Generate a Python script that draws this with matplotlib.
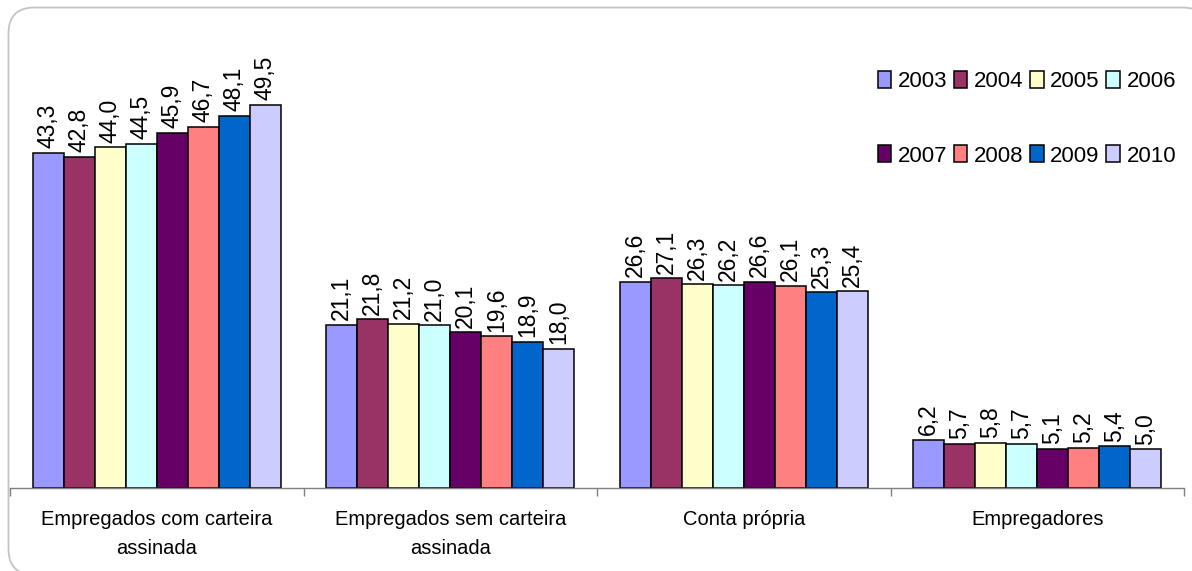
import matplotlib.pyplot as plt
from matplotlib.patches import FancyBboxPatch
from matplotlib.transforms import IdentityTransform
import numpy as np

plt.rcParams["font.family"] = ["Liberation Sans", "DejaVu Sans"]

categories = ["Empregados com carteira\nassinada", "Empregados sem carteira\nassinada",
              "Conta própria", "Empregadores"]
years = ["2003", "2004", "2005", "2006", "2007", "2008", "2009", "2010"]
values = {
    "2003": [43.3, 21.1, 26.6, 6.2],
    "2004": [42.8, 21.8, 27.1, 5.7],
    "2005": [44.0, 21.2, 26.3, 5.8],
    "2006": [44.5, 21.0, 26.2, 5.7],
    "2007": [45.9, 20.1, 26.6, 5.1],
    "2008": [46.7, 19.6, 26.1, 5.2],
    "2009": [48.1, 18.9, 25.3, 5.4],
    "2010": [49.5, 18.0, 25.4, 5.0],
}
colors = ["#9999FF", "#993366", "#FFFFCC", "#CCFFFF",
          "#660066", "#FF8080", "#0066CC", "#CCCCFF"]

W, H = 1192, 571
fig = plt.figure(figsize=(W / 100, H / 100), dpi=100)

# rounded chart frame, in pixel coords (bottom-left origin)
frame = FancyBboxPatch((8.5, -4), 1200, H - 7.5 + 4,
                       boxstyle="round,pad=0,rounding_size=26",
                       transform=IdentityTransform(), facecolor="white",
                       edgecolor="#c4c4c4", linewidth=1.3, zorder=-5)
fig.patches.append(frame)

ax = fig.add_axes([10 / W, 83 / H, 1174 / W, 425.7 / H])
ax.set_facecolor("none")
ax.set_zorder(2)

x = np.arange(len(categories))
bw = 0.1056
n = len(years)
handles = []
for i, (yr, c) in enumerate(zip(years, colors)):
    pos = x + (i - (n - 1) / 2) * bw
    bars = ax.bar(pos, values[yr], width=bw, color=c, edgecolor="black",
                  linewidth=1.1, label=yr)
    handles.append(bars)
    for b, v in zip(bars, values[yr]):
        ax.text(b.get_x() + b.get_width() / 2, v + 0.6,
                f"{v:.1f}".replace(".", ","), rotation=90,
                ha="center", va="bottom", fontsize=16.5)

ax.set_xlim(-0.5, 3.5)
ax.set_ylim(0, 55)
for s in ["top", "right", "left"]:
    ax.spines[s].set_visible(False)
ax.spines["bottom"].set_color("#808080")
ax.spines["bottom"].set_linewidth(1.0)
ax.set_yticks([])

ax.set_xticks(np.arange(-0.5, 4.0, 1.0))
ax.set_xticklabels([])
ax.tick_params(axis="x", which="major", direction="out", length=6,
               color="#808080", width=1.0)
ax.set_xticks(x, minor=True)
ax.set_xticklabels(categories, minor=True, fontsize=14.5, linespacing=1.65)
ax.tick_params(axis="x", which="minor", length=0, pad=16)

# legend fills column-wise, so reorder to read row by row
order = [0, 4, 1, 5, 2, 6, 3, 7]
fig.legend([handles[k] for k in order], [years[k] for k in order],
           loc="upper right", bbox_to_anchor=(1185 / W, 1 - 62 / H),
           ncol=4, frameon=False, fontsize=16, handlelength=0.6,
           handleheight=0.8, handletextpad=0.3, columnspacing=0.3,
           labelspacing=2.4, borderaxespad=0)

fig.savefig("out.png", dpi=100)
